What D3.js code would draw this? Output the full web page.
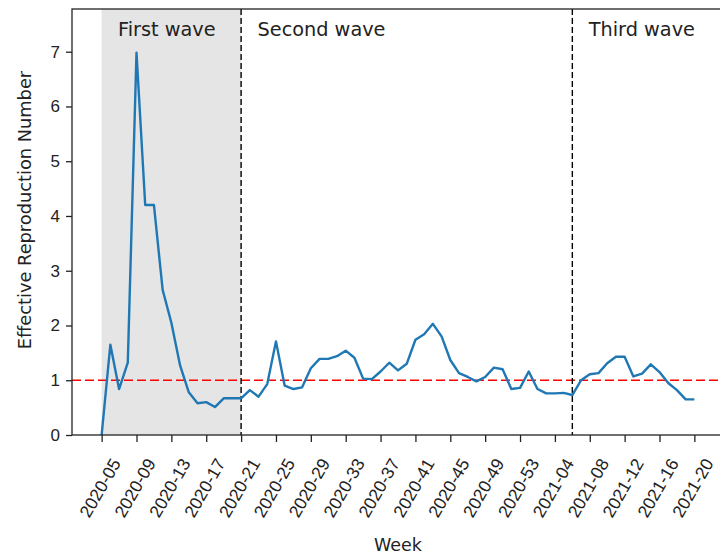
<!DOCTYPE html>
<html>
<head>
<meta charset="utf-8">
<script src="https://cdn.jsdelivr.net/npm/d3@7"></script>
<style>
  body { margin: 0; background: #fff; }
  svg { display: block; font-family: "DejaVu Sans", sans-serif; }
</style>
</head>
<body>
<div id="chart"></div>
<script>
var svgWidth = 720;
var svgHeight = 556;

// plot box (right spine falls just outside the picture)
var margin = ({top: 9, right: -4, bottom: 121, left: 72})

// weekly categories
var weeks = ['2020-05','2020-06','2020-07','2020-08','2020-09','2020-10','2020-11','2020-12',
    '2020-13','2020-14','2020-15','2020-16','2020-17','2020-18','2020-19','2020-20',
    '2020-21','2020-22','2020-23','2020-24','2020-25','2020-26','2020-27','2020-28',
    '2020-29','2020-30','2020-31','2020-32','2020-33','2020-34','2020-35','2020-36',
    '2020-37','2020-38','2020-39','2020-40','2020-41','2020-42','2020-43','2020-44',
    '2020-45','2020-46','2020-47','2020-48','2020-49','2020-50','2020-51','2020-52',
    '2020-53','2021-01','2021-02','2021-03','2021-04','2021-05','2021-06','2021-07',
    '2021-08','2021-09','2021-10','2021-11','2021-12','2021-13','2021-14','2021-15',
    '2021-16','2021-17','2021-18','2021-19','2021-20'];

// effective reproduction number per week
var rt = [0.00, 1.65, 0.84, 1.32, 6.98, 4.20, 4.20, 2.65,
    2.05, 1.27, 0.78, 0.58, 0.60, 0.51, 0.67, 0.67,
    0.67, 0.82, 0.70, 0.93, 1.71, 0.90, 0.84, 0.87,
    1.22, 1.39, 1.39, 1.44, 1.54, 1.41, 1.03, 1.02,
    1.16, 1.32, 1.18, 1.30, 1.74, 1.84, 2.03, 1.80,
    1.37, 1.13, 1.06, 0.98, 1.06, 1.23, 1.20, 0.84,
    0.86, 1.16, 0.84, 0.76, 0.76, 0.77, 0.73, 1.00,
    1.11, 1.13, 1.31, 1.43, 1.43, 1.07, 1.12, 1.29,
    1.15, 0.95, 0.82, 0.65, 0.65];

var tickWeeks = ['2020-05','2020-09','2020-13','2020-17','2020-21','2020-25','2020-29',
    '2020-33','2020-37','2020-41','2020-45','2020-49','2020-53','2021-04','2021-08',
    '2021-12','2021-16','2021-20'];
var yTicks = [0, 1, 2, 3, 4, 5, 6, 7];

// wave boundaries and labels
var waveStarts = ['2020-21', '2021-06'];
var waveNames = ['First wave', 'Second wave', 'Third wave'];
var waveLabelWeeks = ['2020-07', '2020-23', '2021-08'];
var shadeRange = ['2020-05', '2020-21'];
var threshold = 1;

var svg = d3.select("#chart")
    .append("svg")
    .attr("width", svgWidth)
    .attr("height", svgHeight);

var plotW = svgWidth - margin.left - margin.right;
var plotH = svgHeight - margin.top - margin.bottom;

var g = svg.append('g')
    .attr("transform", "translate(" + margin.left + "," + margin.top + ")");

var xScale = d3.scalePoint()
    .domain(weeks)
    .range([0, plotW])
    .padding(3.4);

var yScale = d3.scaleLinear()
    .domain([0, 7.78])
    .range([plotH, 0]);

// shaded first wave
g.append('rect')
    .attr('x', xScale(shadeRange[0]))
    .attr('y', 0)
    .attr('width', xScale(shadeRange[1]) - xScale(shadeRange[0]))
    .attr('height', plotH)
    .attr('fill', '#e5e5e5');

// Rt = 1 line
g.append('line')
    .attr('x1', 0).attr('x2', plotW)
    .attr('y1', yScale(threshold)).attr('y2', yScale(threshold))
    .attr('stroke', 'red')
    .attr('stroke-width', 1.7)
    .attr('stroke-dasharray', '9,4');

// wave separators
g.selectAll('.sep')
    .data(waveStarts)
    .enter()
    .append('line')
    .classed('sep', true)
    .attr('x1', d => xScale(d)).attr('x2', d => xScale(d))
    .attr('y1', 0).attr('y2', plotH)
    .attr('stroke', '#000')
    .attr('stroke-width', 1.4)
    .attr('stroke-dasharray', '6,3');

var line = d3.line()
    .x((d, i) => xScale(weeks[i]))
    .y(d => yScale(d));

g.append('path')
    .datum(rt)
    .attr('d', line)
    .attr('fill', 'none')
    .attr('stroke', '#1f77b4')
    .attr('stroke-width', 2.4)
    .attr('stroke-linejoin', 'round');

g.selectAll('.waveText')
    .data(waveNames)
    .enter()
    .append('text')
    .classed('waveText', true)
    .attr('x', (d, i) => xScale(waveLabelWeeks[i]) - 1)
    .attr('y', 27)
    .attr('font-size', 19.3)
    .attr('fill', '#222')
    .text(d => d);

// axes
var xAxis = g.append('g')
    .attr("transform", "translate(0," + plotH + ")")
    .call(d3.axisBottom(xScale).tickValues(tickWeeks).tickSize(7).tickSizeOuter(0).tickPadding(6));

xAxis.selectAll('text')
    .attr('font-size', 17.5)
    .attr('fill', '#222')
    .attr('text-anchor', 'middle')
    .attr('dy', null)
    .attr('dominant-baseline', 'central')
    .attr('transform', 'translate(-2,53) rotate(-60)')
    .attr('y', 0);

var yAxis = g.append('g')
    .call(d3.axisLeft(yScale).tickValues(yTicks).tickSize(6).tickSizeOuter(0).tickPadding(6));

yAxis.selectAll('text')
    .attr('font-size', 17)
    .attr('fill', '#222');

g.selectAll('.domain').remove();
g.selectAll('.tick line').attr('stroke', '#222').attr('stroke-width', 1.3);

// frame
g.append('rect')
    .attr('x', 0).attr('y', 0)
    .attr('width', plotW).attr('height', plotH)
    .attr('fill', 'none')
    .attr('stroke', '#222')
    .attr('stroke-width', 1.3);

svg.append('text')
    .attr('x', margin.left + plotW / 2)
    .attr('y', 551)
    .attr('text-anchor', 'middle')
    .attr('font-size', 17.5)
    .attr('fill', '#222')
    .text('Week');

svg.append('text')
    .attr('transform', 'translate(24,210) rotate(-90)')
    .attr('text-anchor', 'middle')
    .attr('dominant-baseline', 'central')
    .attr('font-size', 17.8)
    .attr('fill', '#222')
    .text('Effective Reproduction Number');
</script>
</body>
</html>
